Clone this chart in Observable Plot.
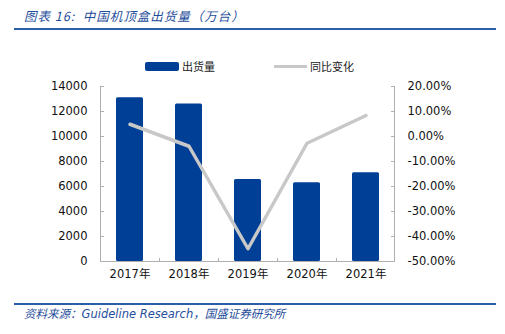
<!DOCTYPE html>
<html><head><meta charset="utf-8">
<script src="https://cdn.jsdelivr.net/npm/d3@7"></script>
<script src="https://cdn.jsdelivr.net/npm/@observablehq/plot@0.6"></script>
<style>
body{margin:0;background:#fff;}
#wrap{position:relative;width:505px;height:334px;overflow:hidden;font-family:"DejaVu Sans","Noto Sans CJK SC",sans-serif;}
#chart{position:absolute;left:0;top:0;}
.title{position:absolute;left:24px;top:6px;font-family:"Noto Sans CJK SC",sans-serif;font-style:italic;font-size:12.5px;color:#1f4e9c;letter-spacing:1px;}
.hr{position:absolute;left:14px;width:482px;height:2px;background:#2b5ea8;}
.src{position:absolute;left:24px;top:305px;font-style:italic;font-size:11.5px;color:#1f4e9c;font-family:"DejaVu Sans","Noto Sans CJK SC",sans-serif;}
.lg{position:absolute;font-family:"Noto Sans CJK SC",sans-serif;font-size:11px;color:#222;}
</style></head>
<body>
<div id="wrap">
  <div class="title">图表 16:&nbsp; 中国机顶盒出货量（万台）</div>
  <div class="hr" style="top:28px"></div>
  <div id="chart"></div>
  <div style="position:absolute;left:145px;top:62px;width:34px;height:9px;background:#003f96;border-radius:2px"></div>
  <div class="lg" style="left:182px;top:58px">出货量</div>
  <div style="position:absolute;left:274px;top:65px;width:33px;height:3px;background:#c8c8c8"></div>
  <div class="lg" style="left:310px;top:58px">同比变化</div>
  <div class="hr" style="top:303px"></div>
  <div class="src">资料来源：Guideline Research，国盛证券研究所</div>
</div>
<script>
const years = ["2017", "2018", "2019", "2020", "2021"];
const shipments = [13100, 12600, 6570, 6300, 7100];
const yoy = [4.9, -3.9, -44.9, -2.7, 8.4];
const leftTicks = [0, 2000, 4000, 6000, 8000, 10000, 12000, 14000];
const rightTicks = [20, 10, 0, -10, -20, -30, -40, -50];

const yMax = 14000, pMin = -50, pMax = 20;
const toY = p => (p - pMin) / (pMax - pMin) * yMax;
const fromY = y => y / yMax * (pMax - pMin) + pMin;

const bars = years.map((y, i) => ({year: y, v: shipments[i]}));
const line = years.map((y, i) => ({year: y, p: yoy[i]}));

const W = 505, H = 334, mL = 100, mR = 110, mT = 86, mB = 73;
const innerW = W - mL - mR, innerH = H - mT - mB;
const step = innerW / years.length;
const axisColor = "#b0b0b0";

const chart = Plot.plot({
  width: W, height: H,
  marginLeft: mL, marginRight: mR, marginTop: mT, marginBottom: mB,
  style: {fontFamily: '"DejaVu Sans","Noto Sans CJK SC",sans-serif', fontSize: "11.5px", color: "#111", background: "transparent"},
  x: {domain: years, paddingInner: 0.55, paddingOuter: 0.275},
  y: {domain: [0, yMax]},
  marks: [
    Plot.barY(bars, {x: "year", y: "v", fill: "#003f96", rx: 1.5}),
    Plot.lineY(line, {x: "year", y: d => toY(d.p), stroke: "#c8c8c8", strokeWidth: 3.5}),
    // axis lines
    Plot.rect([0], {y1: 0, y2: yMax, insetRight: innerW - 1, fill: axisColor}),
    Plot.rect([0], {y1: 0, y2: yMax, insetLeft: innerW - 1, fill: axisColor}),
    Plot.ruleY([0], {stroke: axisColor}),
    // inward ticks
    Plot.tickY(leftTicks, {y: d => d, stroke: axisColor, insetRight: innerW - 4}),
    Plot.tickY(rightTicks.map(toY), {y: d => d, stroke: axisColor, insetLeft: innerW - 4}),
    Plot.tickX(years.slice(1), {x: d => d, dx: -step / 2, stroke: axisColor, insetTop: innerH - 3}),
    Plot.axisY(leftTicks, {anchor: "left", tickSize: 0, tickPadding: 13, label: null, tickFormat: d => String(d)}),
    Plot.axisY(rightTicks.map(toY), {anchor: "right", tickSize: 0, tickPadding: 12, label: null, tickFormat: d => fromY(d).toFixed(2) + "%"}),
    Plot.axisX({anchor: "bottom", tickSize: 0, tickPadding: 8, label: null, tickFormat: d => d + "年"})
  ]
});
document.getElementById("chart").appendChild(chart);
</script>
</body></html>
